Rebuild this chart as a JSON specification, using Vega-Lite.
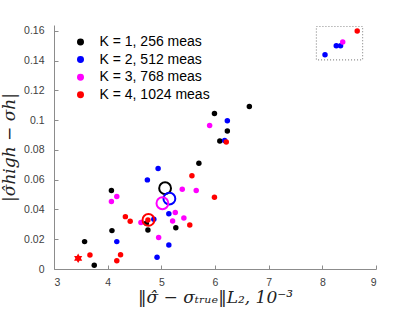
{
  "$schema": "https://vega.github.io/schema/vega-lite/v6.json",
  "width": 322,
  "height": 244,
  "autosize": "none",
  "padding": {"left": 54, "top": 25, "right": 39, "bottom": 43},
  "background": "white",
  "config": {
    "view": {"stroke": null},
    "axis": {
      "domainColor": "#8c8c8c",
      "tickColor": "#8c8c8c",
      "grid": false,
      "labelFont": "Liberation Sans",
      "labelFontSize": 10.5,
      "labelColor": "#404040",
      "tickSize": -4,
      "titleFont": "DejaVu Serif",
      "titleFontStyle": "italic",
      "titleFontWeight": "normal",
      "titleFontSize": 17,
      "titleColor": "#222222"
    }
  },
  "datasets": {
    "pts": [
      {"series": "K = 1, 256 meas", "x": 4.07, "y": 0.0527},
      {"series": "K = 1, 256 meas", "x": 4.08, "y": 0.0258},
      {"series": "K = 1, 256 meas", "x": 3.57, "y": 0.0184},
      {"series": "K = 1, 256 meas", "x": 3.75, "y": 0.0025},
      {"series": "K = 1, 256 meas", "x": 4.72, "y": 0.0307},
      {"series": "K = 1, 256 meas", "x": 4.75, "y": 0.0262},
      {"series": "K = 1, 256 meas", "x": 5.27, "y": 0.0278},
      {"series": "K = 1, 256 meas", "x": 5.70, "y": 0.0711},
      {"series": "K = 1, 256 meas", "x": 6.64, "y": 0.1092},
      {"series": "K = 1, 256 meas", "x": 5.99, "y": 0.1045},
      {"series": "K = 1, 256 meas", "x": 6.23, "y": 0.0927},
      {"series": "K = 1, 256 meas", "x": 6.09, "y": 0.0861},
      {"series": "K = 2, 512 meas", "x": 4.17, "y": 0.0184},
      {"series": "K = 2, 512 meas", "x": 4.86, "y": 0.0334},
      {"series": "K = 2, 512 meas", "x": 4.92, "y": 0.0079},
      {"series": "K = 2, 512 meas", "x": 5.14, "y": 0.0161},
      {"series": "K = 2, 512 meas", "x": 5.14, "y": 0.0372},
      {"series": "K = 2, 512 meas", "x": 4.94, "y": 0.0675},
      {"series": "K = 2, 512 meas", "x": 4.74, "y": 0.0599},
      {"series": "K = 2, 512 meas", "x": 6.23, "y": 0.0996},
      {"series": "K = 2, 512 meas", "x": 6.18, "y": 0.0863},
      {"series": "K = 2, 512 meas", "x": 8.05, "y": 0.144},
      {"series": "K = 2, 512 meas", "x": 8.26, "y": 0.150},
      {"series": "K = 2, 512 meas", "x": 8.34, "y": 0.150},
      {"series": "K = 3, 768 meas", "x": 4.17, "y": 0.0487},
      {"series": "K = 3, 768 meas", "x": 4.07, "y": 0.0453},
      {"series": "K = 3, 768 meas", "x": 4.62, "y": 0.0312},
      {"series": "K = 3, 768 meas", "x": 4.95, "y": 0.0211},
      {"series": "K = 3, 768 meas", "x": 5.26, "y": 0.0379},
      {"series": "K = 3, 768 meas", "x": 5.21, "y": 0.0323},
      {"series": "K = 3, 768 meas", "x": 5.42, "y": 0.0343},
      {"series": "K = 3, 768 meas", "x": 5.39, "y": 0.0536},
      {"series": "K = 3, 768 meas", "x": 5.65, "y": 0.0527},
      {"series": "K = 3, 768 meas", "x": 5.90, "y": 0.0965},
      {"series": "K = 3, 768 meas", "x": 8.38, "y": 0.1525},
      {"series": "K = 4, 1024 meas", "x": 3.67, "y": 0.0094},
      {"series": "K = 4, 1024 meas", "x": 4.24, "y": 0.0096},
      {"series": "K = 4, 1024 meas", "x": 4.17, "y": 0.0056},
      {"series": "K = 4, 1024 meas", "x": 4.33, "y": 0.0352},
      {"series": "K = 4, 1024 meas", "x": 4.42, "y": 0.0321},
      {"series": "K = 4, 1024 meas", "x": 4.75, "y": 0.0330},
      {"series": "K = 4, 1024 meas", "x": 5.53, "y": 0.0296},
      {"series": "K = 4, 1024 meas", "x": 5.57, "y": 0.0626},
      {"series": "K = 4, 1024 meas", "x": 5.99, "y": 0.0482},
      {"series": "K = 4, 1024 meas", "x": 6.21, "y": 0.0853},
      {"series": "K = 4, 1024 meas", "x": 8.65, "y": 0.160}
    ],
    "means": [
      {"series": "K = 1, 256 meas", "x": 5.07, "y": 0.0543},
      {"series": "K = 2, 512 meas", "x": 5.15, "y": 0.0473},
      {"series": "K = 3, 768 meas", "x": 5.02, "y": 0.0442},
      {"series": "K = 4, 1024 meas", "x": 4.76, "y": 0.0330}
    ],
    "star": [
      {"series": "K = 4, 1024 meas", "x": 3.45, "y": 0.0072}
    ],
    "box": [
      {"x": 7.89, "x2": 8.75, "y": 0.1406, "y2": 0.163}
    ]
  },
  "encoding": {
    "x": {
      "field": "x", "type": "quantitative",
      "scale": {"domain": [3, 9], "nice": false, "zero": false},
      "axis": {
        "values": [3, 4, 5, 6, 7, 8, 9], "format": "d",
        "labelPadding": 12,
        "title": "‖σ̂ − σₜᵣᵤₑ‖L₂, 10⁻³",
        "titlePadding": 2
      }
    },
    "y": {
      "field": "y", "type": "quantitative",
      "scale": {"domain": [0, 0.164], "nice": false},
      "axis": {
        "values": [0, 0.02, 0.04, 0.06, 0.08, 0.1, 0.12, 0.14, 0.16], "format": "~g",
        "labelPadding": 14,
        "title": "|σ̂high − σh|",
        "titlePadding": 5
      }
    }
  },
  "layer": [
    {
      "data": {"name": "box"},
      "mark": {"type": "rect", "fill": null, "stroke": "#8c8c8c", "strokeWidth": 1.2, "strokeDash": [1, 2]},
      "encoding": {
        "x2": {"field": "x2"},
        "y2": {"field": "y2"}
      }
    },
    {
      "data": {"name": "pts"},
      "mark": {"type": "circle", "size": 30, "opacity": 1},
      "encoding": {
        "color": {
          "field": "series", "type": "nominal",
          "scale": {
            "domain": ["K = 1, 256 meas", "K = 2, 512 meas", "K = 3, 768 meas", "K = 4, 1024 meas"],
            "range": ["#000000", "#0000ff", "#ff00ff", "#ff0000"]
          },
          "legend": {
            "title": null,
            "orient": "none",
            "legendX": 19.5,
            "legendY": 10,
            "padding": 0,
            "symbolType": "circle",
            "symbolSize": 30,
            "symbolOpacity": 1,
            "labelFont": "Liberation Sans",
            "labelFontSize": 14,
            "labelColor": "#000000",
            "labelOffset": 12,
            "rowPadding": 3.6
          }
        }
      }
    },
    {
      "data": {"name": "means"},
      "mark": {"type": "point", "shape": "circle", "size": 140, "strokeWidth": 2, "filled": false, "opacity": 1},
      "encoding": {
        "color": {"field": "series", "type": "nominal", "legend": null}
      }
    },
    {
      "data": {"name": "star"},
      "mark": {
        "type": "point",
        "shape": "M0,-1L0.289,-0.5L0.866,-0.5L0.577,0L0.866,0.5L0.289,0.5L0,1L-0.289,0.5L-0.866,0.5L-0.577,0L-0.866,-0.5L-0.289,-0.5Z",
        "size": 90, "filled": true, "opacity": 1, "strokeWidth": 0
      },
      "encoding": {
        "color": {"field": "series", "type": "nominal", "legend": null}
      }
    }
  ]
}
